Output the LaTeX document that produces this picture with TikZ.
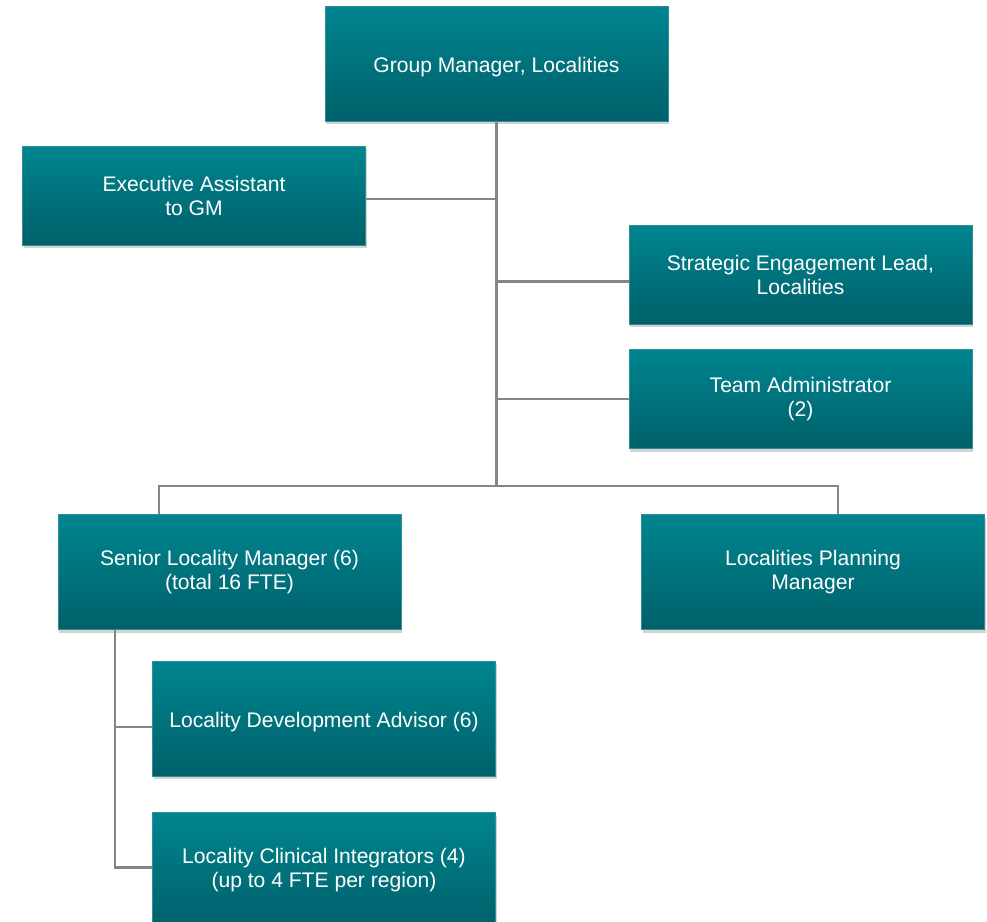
\documentclass[tikz,border=0pt]{standalone}
\usepackage{fontspec}
\setmainfont{Liberation Sans}
\usetikzlibrary{shadows}

\definecolor{boxtop}{HTML}{00858F}
\definecolor{boxbottom}{HTML}{00606A}
\definecolor{boxrim}{HTML}{2E8F98}
\definecolor{linkgray}{HTML}{858585}

\tikzset{
  rolebox/.style={rectangle, draw=boxrim, line width=0.4pt,
    top color=boxtop, bottom color=boxbottom,
    minimum width=6.86cm, minimum height=2.3cm, align=center,
    text=white, font=\fontsize{12}{13.7}\selectfont,
    drop shadow={shadow xshift=0.6pt, shadow yshift=-1.8pt, opacity=0.35}},
  lowbox/.style={rolebox, minimum height=1.98cm},
  oneline/.style={text height=13.2pt, text depth=2.5pt},
  link/.style={draw=linkgray, line width=1.3pt}
}

\begin{document}
\begin{tikzpicture}[x=0.02cm, y=-0.02cm]
            % PEVNY RAMECEK (rozmery obrazku v pixelech)
            \useasboundingbox (0,0) rectangle (987,922);

            % --- BOXY ---
            \node[rolebox, oneline] (gm) at (496.5,63.5) {Group Manager, Localities};
            \node[lowbox]  (ea)  at (194,195.5)  {Executive Assistant\\to GM};
            \node[lowbox]  (sel) at (800.5,274.5) {Strategic Engagement Lead,\\Localities};
            \node[lowbox]  (ta)  at (800.5,399)  {Team Administrator\\(2)};
            \node[rolebox] (slm) at (229.5,572)  {Senior Locality Manager (6)\\(total 16 FTE)};
            \node[rolebox] (lpm) at (813,572)    {Localities Planning\\Manager};
            \node[rolebox, oneline] (lda) at (324,718.5) {Locality Development Advisor (6)};
            \node[rolebox] (lci) at (324,870)    {Locality Clinical Integrators (4)\\(up to 4 FTE per region)};

            % --- POMOCNE BODY ---
            \coordinate (bar)   at (497,486);
            \coordinate (dropl) at (159,0);
            \coordinate (dropr) at (838,0);
            \coordinate (stem)  at (115,0);

            % --- SPOJNICE ---
            \draw[link] (gm.south) -- (gm.south |- bar);
            \draw[link] ([yshift=-0.07cm]ea.east) -- ([yshift=-0.07cm]ea.east -| gm.south);
            \draw[link] ([yshift=-0.14cm]sel.west) -- ([yshift=-0.14cm]sel.west -| gm.south);
            \draw[link] (ta.west) -- (ta.west -| gm.south);

            % rozvetveni dolu
            \draw[link] (dropl |- slm.north) -- (dropl |- bar) -- (dropr |- bar) -- (dropr |- lpm.north);

            % pod Senior Locality Manager
            \draw[link] (stem |- slm.south) -- ([yshift=0.05cm]stem |- lci.west) -- ([yshift=0.05cm]lci.west);
            \draw[link] ([yshift=-0.17cm]lda.west -| stem) -- ([yshift=-0.17cm]lda.west);

        \end{tikzpicture}
\end{document}
